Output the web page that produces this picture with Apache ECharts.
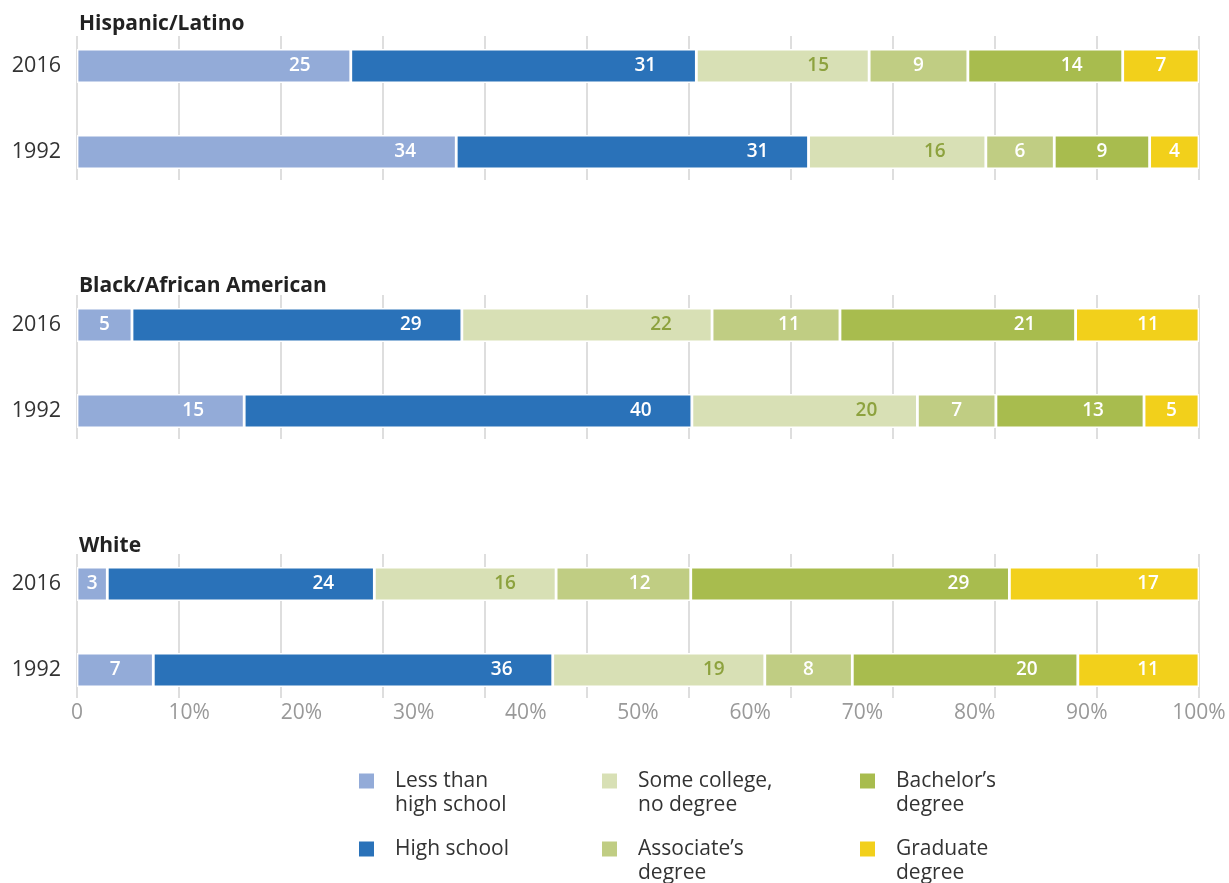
<!DOCTYPE html>
<html>
<head>
<meta charset="utf-8">
<script src="https://cdn.jsdelivr.net/npm/echarts@6/dist/echarts.min.js"></script>
<style>
html,body{margin:0;padding:0;background:#fff;}
#main{width:1229px;height:883px;}
</style>
</head>
<body>
<div id="main"></div>
<script>
// ---- data ----
const panels = ['Hispanic/Latino', 'Black/African American', 'White'];
const years = ['2016', '1992'];
const levels = ['Less than high school', 'High school', 'Some college, no degree', "Associate\u2019s degree", "Bachelor\u2019s degree", 'Graduate degree'];
const legendText = ['\nLess than\nhigh school', 'High school', '\nSome college,\nno degree', "\nAssociate\u2019s\ndegree", "\nBachelor\u2019s\ndegree", '\nGraduate\ndegree'];
const xTickLabels = ['0', '10%', '20%', '30%', '40%', '50%', '60%', '70%', '80%', '90%', '100%'];

// bar widths (percent shares)
const hispanic2016 = [24.4, 30.8, 15.4, 8.8, 13.8, 6.8];
const hispanic1992 = [33.8, 31.4, 15.8, 6.1, 8.5, 4.4];
const black2016 = [4.9, 29.4, 22.3, 11.4, 21.0, 11.0];
const black1992 = [14.9, 39.9, 20.1, 7.0, 13.2, 4.9];
const white2016 = [2.7, 23.8, 16.2, 12.0, 28.4, 16.9];
const white1992 = [6.8, 35.6, 18.9, 7.8, 20.1, 10.8];

// printed labels
const hispanic2016Labels = [25, 31, 15, 9, 14, 7];
const hispanic1992Labels = [34, 31, 16, 6, 9, 4];
const black2016Labels = [5, 29, 22, 11, 21, 11];
const black1992Labels = [15, 40, 20, 7, 13, 5];
const white2016Labels = [3, 24, 16, 12, 29, 17];
const white1992Labels = [7, 36, 19, 8, 20, 11];

const panelValues = [[hispanic2016, hispanic1992], [black2016, black1992], [white2016, white1992]];
const panelLabels = [[hispanic2016Labels, hispanic1992Labels], [black2016Labels, black1992Labels], [white2016Labels, white1992Labels]];

// ---- style ----
const colors = ['#93abd8', '#2a72b9', '#d8e0b5', '#c0cd83', '#a8bc4e', '#f2d01b'];
const labelColors = ['#fff', '#fff', '#8da23e', '#fff', '#fff', '#fff'];
const FONT = '"Open Sans", "Noto Sans", sans-serif';
const GL = 77, GR = 30, W = 1229;
const PXU = (W - GL - GR) / 100;
const STEP = 259;
const titleTops = [14, 276, 536];

const grids = [], xAxes = [], yAxes = [], series = [], titles = [];
for (let p = 0; p < 3; p++) {
  const off = STEP * p;
  // bar grid
  grids.push({ left: GL, right: GR, top: 23 + off, height: 172 });
  xAxes.push({ gridIndex: p, type: 'value', min: 0, max: 100, show: false });
  yAxes.push({
    gridIndex: p, type: 'category', data: years, inverse: true,
    axisLine: { show: false }, axisTick: { show: false }, splitLine: { show: false },
    axisLabel: { color: '#333', fontSize: 21.5, fontFamily: FONT, margin: 16 }
  });
  titles.push({
    text: panels[p], left: 79, top: titleTops[p], padding: 0,
    textStyle: { fontSize: 21, fontWeight: 'bold', color: '#222', fontFamily: FONT }
  });
}
for (let p = 0; p < 3; p++) {
  const off = STEP * p;
  // gridline grid
  grids.push({ left: GL, right: GR, top: 36 + off, height: 144 });
  xAxes.push({
    gridIndex: 3 + p, type: 'value', min: 0, max: 11, interval: 1,
    axisLine: { show: false }, axisTick: { show: false }, axisLabel: { show: false },
    splitLine: { show: true, lineStyle: { color: '#dedede', width: 2 } }
  });
  yAxes.push({ gridIndex: 3 + p, type: 'value', min: 0, max: 1, show: false });
}
// tick label grid
grids.push({ left: GL, right: GR, top: 36 + STEP * 2, height: 144 });
xAxes.push({
  gridIndex: 6, type: 'value', min: 0, max: 100, interval: 10,
  axisLine: { show: false }, axisTick: { show: false }, splitLine: { show: false },
  axisLabel: {
    color: '#999', fontSize: 21, fontFamily: FONT, margin: 5,
    formatter: (v) => xTickLabels[Math.round(v / 10)]
  }
});
yAxes.push({ gridIndex: 6, type: 'value', min: 0, max: 1, show: false });

for (let p = 0; p < 3; p++) {
  for (let k = 0; k < levels.length; k++) {
    const data = years.map((y, r) => {
      const v = panelValues[p][r][k];
      return {
        value: v,
        label: { distance: Math.min(51, v * PXU / 2) }
      };
    });
    series.push({
      type: 'bar', name: levels[k], xAxisIndex: p, yAxisIndex: p,
      stack: 'panel' + p, barWidth: 34, data: data,
      itemStyle: { color: colors[k], borderColor: '#fff', borderWidth: 1.4 },
      label: {
        show: true, position: 'insideRight', align: 'center', verticalAlign: 'middle',
        color: labelColors[k], fontSize: 19, fontWeight: 600, fontFamily: FONT,
        formatter: ((pp, kk) => (prm) => String(panelLabels[pp][prm.dataIndex][kk]))(p, k)
      },
      emphasis: { disabled: true },
      animation: false
    });
  }
}

const legendCommon = {
  orient: 'vertical', padding: 0, itemWidth: 17, itemHeight: 17, icon: 'rect',
  selectedMode: false, height: 200,
  textStyle: { color: '#333', fontSize: 21, lineHeight: 24, fontFamily: FONT, padding: [0, 0, 0, 15] },
  formatter: (name) => legendText[levels.indexOf(name)]
};
const legends = [
  Object.assign({}, legendCommon, { left: 357, top: 745, itemGap: 20, data: [levels[0], levels[1]] }),
  Object.assign({}, legendCommon, { left: 600, top: 745, itemGap: -4, data: [levels[2], levels[3]] }),
  Object.assign({}, legendCommon, { left: 858, top: 745, itemGap: -4, data: [levels[4], levels[5]] })
];

const chart = echarts.init(document.getElementById('main'), null, { renderer: 'canvas' });
chart.setOption({
  backgroundColor: '#fff',
  animation: false,
  title: titles,
  grid: grids,
  xAxis: xAxes,
  yAxis: yAxes,
  legend: legends,
  series: series
});
</script>
</body>
</html>
